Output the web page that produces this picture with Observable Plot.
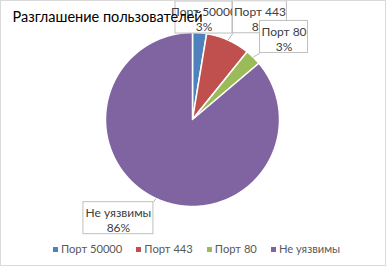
<!DOCTYPE html>
<html><head><meta charset="utf-8">
<script src="https://cdn.jsdelivr.net/npm/d3@7"></script>
<script src="https://cdn.jsdelivr.net/npm/@observablehq/plot@0.6"></script>
<style>
body{margin:0;background:#fff;}
#wrap{position:relative;width:387px;height:268px;overflow:hidden;font-family:Lato,sans-serif;}
#border{position:absolute;left:0;top:0;width:386px;height:266px;box-sizing:border-box;border:1px solid #d9d9d9;pointer-events:none;}
#legend{position:absolute;left:3px;top:242px;width:387px;display:flex;justify-content:center;font-family:Lato,sans-serif;font-size:11.2px;line-height:14px;color:#595959;}
#legend .item{display:flex;align-items:center;margin-right:14px;white-space:nowrap;}
#legend .item:last-child{margin-right:0;}
#legend .sw{display:inline-block;width:5px;height:5px;margin-right:3px;}
</style></head><body><div id="wrap"><div id="border"></div><div id="legend"></div></div>
<script>
const categories = ["Порт 50000", "Порт 443", "Порт 80", "Не уязвимы"];
const values = [2.6, 8.2, 3.0, 86.2];
const percentLabels = ["3%", "8%", "3%", "86%"];
const colors = ["#4F81BD", "#C0504D", "#9BBB59", "#8064A2"];
const title = "Разглашение пользователей";

// layout (pixels)
const W = 387, H = 268, CX = 192, CY = 119, R = 87;
const boxW = [57, 54, 48, 70], boxH = 32;
const labelDx = [2.6, 23, 15.6, -28.4], labelDy = [6.4, -3, -4.7, 0];
const leader = [false, true, true, true];

const arcs = d3.pie().sort(null).value(d => d)(values);
const slices = [];
arcs.forEach((a, i) => {
  const pts = [[0, 0]];
  const n = Math.max(2, Math.ceil((a.endAngle - a.startAngle) / (Math.PI / 360)));
  for (let k = 0; k <= n; k++) {
    const t = a.startAngle + (a.endAngle - a.startAngle) * k / n;
    pts.push([Math.sin(t), Math.cos(t)]);
  }
  pts.push([0, 0]);
  pts.forEach(p => slices.push({cat: categories[i], x: p[0], y: p[1]}));
});

const labels = arcs.map((a, i) => {
  const m = (a.startAngle + a.endAngle) / 2;
  const cx = 1.25 * Math.sin(m) + labelDx[i] / R;
  const cy = 1.25 * Math.cos(m) - labelDy[i] / R;
  const hw = boxW[i] / 2 / R, hh = boxH / 2 / R;
  const ex = 1.0 * Math.sin(m), ey = 1.0 * Math.cos(m);
  const bx = ex > cx ? cx + hw : cx - hw;
  const by = ey > cy ? cy + hh : cy - hh;
  return {i, cat: categories[i], text: categories[i] + "\n" + percentLabels[i],
    x: cx, y: cy, x1: cx - hw, x2: cx + hw, y1: cy - hh, y2: cy + hh, ex, ey, bx, by};
});

const labelMarks = labels.flatMap(l => [
  ...(leader[l.i] ? [Plot.link([l], {x1: "bx", y1: "by", x2: "ex", y2: "ey", stroke: "#a6a6a6", strokeWidth: 0.8})] : []),
  Plot.rect([l], {x1: "x1", x2: "x2", y1: "y1", y2: "y2", fill: "white", stroke: "#bfbfbf", strokeWidth: 1}),
  Plot.text([l], {x: "x", y: "y", text: "text", dy: 1.5, fill: "#404040", fontSize: 12, lineHeight: 1.25, fontFamily: "Lato"})
]);

const chart = Plot.plot({
  width: W, height: H, margin: 0,
  x: {domain: [-CX / R, (W - CX) / R], axis: null},
  y: {domain: [-(H - CY) / R, CY / R], axis: null},
  color: {domain: categories, range: colors},
  marks: [
    Plot.line(slices, {x: "x", y: "y", z: "cat", fill: "cat", stroke: "white", strokeWidth: 1.5, curve: "linear"}),
    ...labelMarks,
    Plot.text([title], {text: d => d, frameAnchor: "top-left", dx: 12, dy: 11, textAnchor: "start", lineAnchor: "top", fontSize: 14.5, fill: "#000", fontFamily: "Lato"})
  ]
});
document.getElementById("wrap").prepend(chart);
chart.style.position = "absolute"; chart.style.left = "0"; chart.style.top = "0";

const color = chart.scale("color");
const items = d3.select("#legend").selectAll("div.item").data(categories).join("div").attr("class", "item");
items.append("span").attr("class", "sw").style("background", d => color.apply(d));
items.append("span").text(d => d);
</script></body></html>
